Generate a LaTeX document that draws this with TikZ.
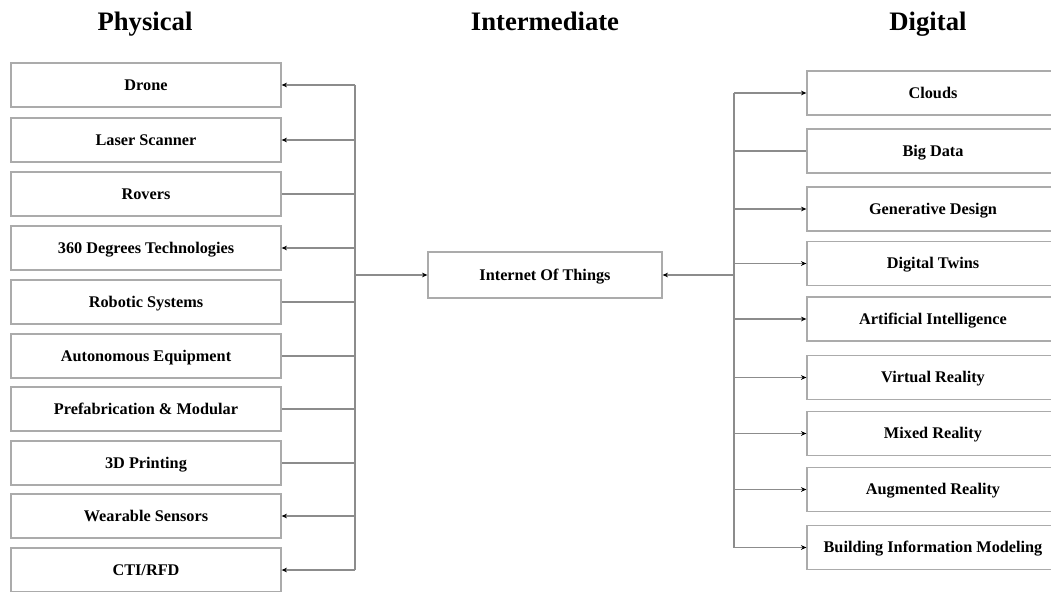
\documentclass[tikz,border=0pt]{standalone}
\usepackage{fontspec}
\setmainfont{Liberation Serif}
\usetikzlibrary{arrows.meta}
\definecolor{boxgray}{HTML}{ABABAB}
\definecolor{linegray}{HTML}{8C8C8C}
\begin{document}
\begin{tikzpicture}[x=0.75pt,y=-0.75pt,
  box/.style={draw=boxgray,line width=1pt,fill=white,inner sep=0pt,
    minimum height=33pt,text height=10.2pt,text depth=2pt,
    font=\bfseries\fontsize{12.2}{14}\selectfont},
  lbox/.style={box,minimum width=202.5pt},
  rbox/.style={box,minimum width=189pt},
  ibox/.style={box,minimum width=175.5pt,minimum height=34.5pt},
  head/.style={anchor=base,font=\bfseries\fontsize{20}{24}\selectfont},
  conn/.style={draw=linegray,line width=0.8pt},
  arr/.style={conn,-{Stealth[length=4pt,width=3.5pt,black]}}]
\useasboundingbox (0,0) rectangle (1051,592);
\fill[white] (0,0) rectangle (1051,592);

\node[head] (hphys) at (145,31) {Physical};
\node[head] (hint) at (545,31) {Intermediate};
\node[head] (hdig) at (928,31) {Digital};

% left boxes
\node[lbox] (drone) at (146,85) {Drone};
\node[lbox] (laser) at (146,140) {Laser Scanner};
\node[lbox] (rovers) at (146,194) {Rovers};
\node[lbox] (deg) at (146,248) {360 Degrees Technologies};
\node[lbox] (robot) at (146,302) {Robotic Systems};
\node[lbox] (auto) at (146,356) {Autonomous Equipment};
\node[lbox] (prefab) at (146,409) {Prefabrication \& Modular};
\node[lbox] (print) at (146,463) {3D Printing};
\node[lbox] (wear) at (146,516) {Wearable Sensors};
\node[lbox] (cti) at (146,570) {CTI/RFD};

% middle
\node[ibox] (iot) at (545,275) {Internet Of Things};

% right boxes
\node[rbox] (clouds) at (933,93) {Clouds};
\node[rbox] (big) at (933,151) {Big Data};
\node[rbox] (gen) at (933,209) {Generative Design};
\node[rbox] (twin) at (933,263.5) {Digital Twins};
\node[rbox] (ai) at (933,319) {Artificial Intelligence};
\node[rbox] (vr) at (933,377.5) {Virtual Reality};
\node[rbox] (mr) at (933,433.5) {Mixed Reality};
\node[rbox] (ar) at (933,489.5) {Augmented Reality};
\node[rbox] (bim) at (933,547.5) {Building Information Modeling};

% left bus
\coordinate (lbus) at (355,275);
\draw[conn] (lbus |- drone.east) -- (lbus |- cti.east);
\foreach \n in {drone,laser,deg,wear,cti}
  \draw[arr] (lbus |- \n.east) -- (\n.east);
\foreach \n in {rovers,robot,auto,prefab,print}
  \draw[conn] (lbus |- \n.east) -- (\n.east);
\draw[arr] (lbus) -- (iot.west);

% right bus
\coordinate (rbus) at (734,275);
\draw[conn] (rbus |- clouds.west) -- (rbus |- bim.west);
\foreach \n in {clouds,gen,twin,ai,vr,mr,ar,bim}
  \draw[arr] (rbus |- \n.west) -- (\n.west);
\draw[conn] (rbus |- big.west) -- (big.west);
\draw[arr] (rbus) -- (iot.east);
\end{tikzpicture}
\end{document}
